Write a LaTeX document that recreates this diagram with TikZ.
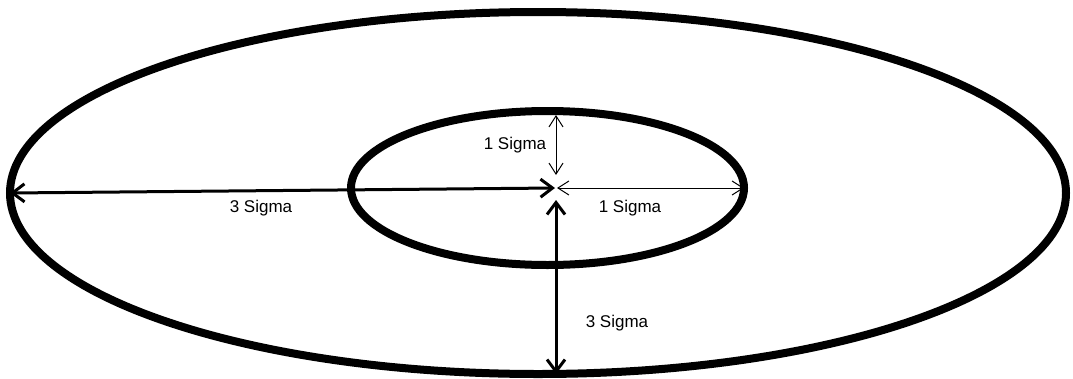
\documentclass[tikz,border=0pt]{standalone}
\usepackage{fontspec}
\setmainfont{Liberation Sans}
\usetikzlibrary{shapes.geometric,arrows.meta}
\begin{document}
\begin{tikzpicture}[x=1pt,y=-1pt,
  ring/.style={draw=black,line width=8pt,ellipse,inner sep=0pt,outer sep=0pt},
  thinarrow/.style={line width=1pt,{Straight Barb[length=11pt,width=14pt]}-{Straight Barb[length=11pt,width=14pt]}},
  thickarrow/.style={line width=3pt,{Straight Barb[length=12pt,width=18pt]}-{Straight Barb[length=12pt,width=18pt]}},
  lbl/.style={inner sep=0pt,font=\fontsize{17}{19}\selectfont}]
\useasboundingbox (0,0) rectangle (1073,378);
\node[ring,minimum width=1056pt,minimum height=362pt] (outer) at (538,193) {};
\node[ring,minimum width=393pt,minimum height=154pt] (inner) at (547.5,188) {};
\coordinate (c) at (556,188);
\coordinate (ctop) at (556,175);
\coordinate (cright) at (557,188);
\coordinate (cleft) at (555,188);
\coordinate (cbot) at (556,200);
\coordinate (itop) at (556,115);
\coordinate (ieast) at (744,188);
\coordinate (owest) at (10,193);
\coordinate (osouth) at (556,374);
\draw[thinarrow] (itop) -- (ctop);
\draw[thinarrow] (cright) -- (ieast);
\draw[thickarrow] (owest) -- (cleft);
\draw[thickarrow] (cbot) -- (osouth);
\node[lbl] (l1) at (515,145) {1 Sigma};
\node[lbl] (l2) at (630,208) {1 Sigma};
\node[lbl] (l3) at (261,208) {3 Sigma};
\node[lbl] (l4) at (617,323) {3 Sigma};
\end{tikzpicture}
\end{document}
